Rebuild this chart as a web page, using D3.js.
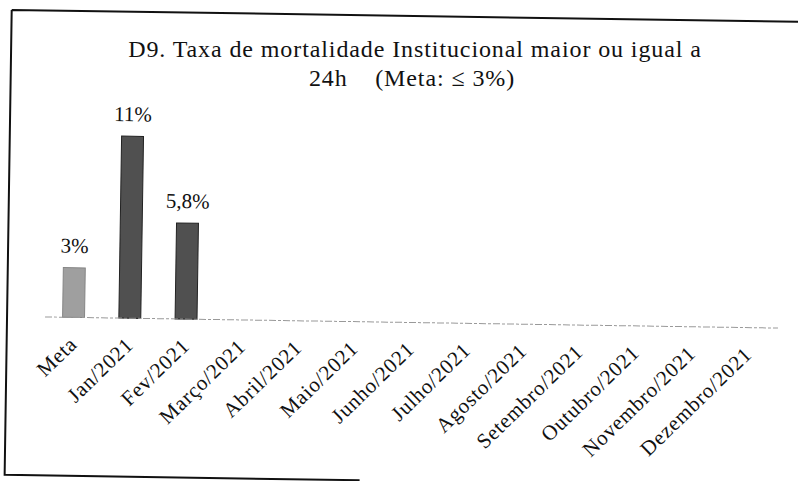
<!DOCTYPE html>
<html>
<head>
<meta charset="utf-8">
<script src="https://cdn.jsdelivr.net/npm/d3@7"></script>
<style>
  body { margin: 0; background: #fff; }
  svg text { font-family: "Liberation Serif", "DejaVu Serif", serif; fill: #111; }
</style>
</head>
<body>
<div id="chart"></div>
<script>
let categories = ["Meta", "Jan/2021", "Fev/2021", "Março/2021", "Abril/2021", "Maio/2021", "Junho/2021",
  "Julho/2021", "Agosto/2021", "Setembro/2021", "Outubro/2021", "Novembro/2021", "Dezembro/2021"];
let values = [3, 11, 5.8, null, null, null, null, null, null, null, null, null, null];
let titleLines = ["D9. Taxa de mortalidade Institucional maior ou igual a", "24h\u00a0\u00a0\u00a0 (Meta: \u2264 3%)"];

let width = 798, height = 481;
let baseY = 322.5;   // linha de base (antes da inclinação do scan)
let tilt = 0.87;     // a página escaneada está levemente girada

let svg = d3.select("#chart")
  .append("svg")
  .attr("width", width)
  .attr("height", height);

let g = svg.append("g")
  .attr("transform", "rotate(" + tilt + ", 411, " + baseY + ")");

/* ------------------ Moldura ------------------ */
g.append("path")
  .attr("d", "M7,16 L820,16 M7,16 L7,481 L362,481")
  .attr("fill", "none")
  .attr("stroke", "#111")
  .attr("stroke-width", 2);

/* ------------------ Escalas ------------------ */
let x = d3.scaleBand()
  .domain(categories)
  .range([45.4, 776.6])
  .paddingInner(0.61)
  .paddingOuter(0.305);

let y = d3.scaleLinear()
  .domain([0, 11])
  .range([baseY, baseY - 182]);

/* ------------------ Título (fora da rotação) ------------------ */
svg.selectAll(".title")
  .data(titleLines)
  .enter()
  .append("text")
  .attr("class", "title")
  .attr("x", (d, i) => i == 0 ? 415 : 412)
  .attr("y", (d, i) => 57 + i * 29)
  .attr("text-anchor", "middle")
  .style("font-size", "24px")
  .style("letter-spacing", "0.9px")
  .text(d => d);

/* ------------------ Barras ------------------ */
let data = categories.map((c, i) => ({ cat: c, v: values[i] })).filter(d => d.v != null);

g.selectAll(".bar")
  .data(data)
  .enter()
  .append("rect")
  .attr("class", "bar")
  .attr("x", d => x(d.cat))
  .attr("y", d => y(d.v))
  .attr("width", x.bandwidth())
  .attr("height", d => y(0) - y(d.v))
  .attr("fill", (d, i) => i == 0 ? "#9f9f9f" : "#505050")
  .attr("stroke", (d, i) => i == 0 ? "#858585" : "#222")
  .attr("stroke-width", 1);

// rótulos de valor
g.selectAll(".val")
  .data(data)
  .enter()
  .append("text")
  .attr("class", "val")
  .attr("x", d => x(d.cat) + x.bandwidth() / 2)
  .attr("y", d => y(d.v) - 15)
  .attr("text-anchor", "middle")
  .style("font-size", "21px")
  .text(d => String(d.v).replace(".", ",") + "%");

/* ------------------ Eixo X ------------------ */
g.append("line")
  .attr("x1", 45)
  .attr("x2", 778)
  .attr("y1", baseY)
  .attr("y2", baseY)
  .attr("stroke", "#999")
  .attr("stroke-width", 1)
  .attr("stroke-dasharray", "7 2 3 2");

g.selectAll(".tick-label")
  .data(categories)
  .enter()
  .append("text")
  .attr("class", "tick-label")
  .attr("transform", d => "translate(" + (x(d) + x.bandwidth() / 2 - 6) + "," + (baseY + 17) + ") rotate(-45)")
  .attr("text-anchor", "end")
  .attr("dy", "0.75em")
  .style("font-size", "21px")
  .style("letter-spacing", "0.8px")
  .text(d => d);
</script>
</body>
</html>
